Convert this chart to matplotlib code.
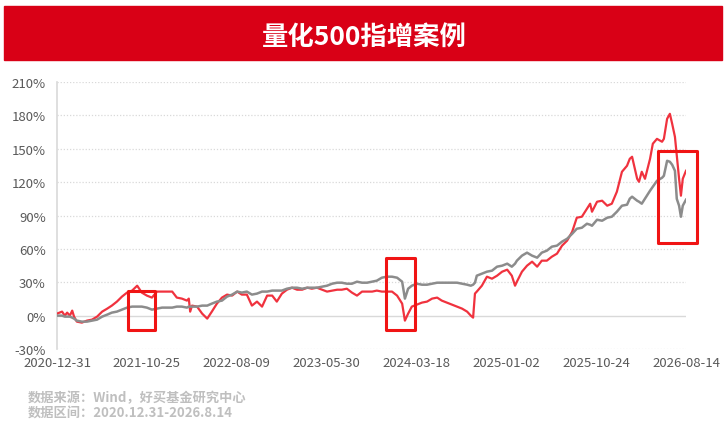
import matplotlib
matplotlib.use("Agg")
import matplotlib.pyplot as plt
from matplotlib.patches import Rectangle

plt.rcParams['font.family'] = ['Noto Sans CJK SC', 'DejaVu Sans']

title = "量化500指增案例"
source_lines = ["数据来源：Wind，好买基金研究中心", "数据区间：2020.12.31-2026.8.14"]

# trading-day index (0 .. 1365) and cumulative returns in %
day_idx = [0, 11, 17, 22, 28, 33, 37, 43, 54, 65, 76, 87, 98, 109, 119, 130, 141, 152, 163, 174,
           184, 195, 206, 217, 228, 239, 250, 260, 271, 282, 286, 289, 293, 304, 315, 326, 336, 347,
           358, 369, 380, 391, 401, 412, 423, 434, 445, 456, 467, 477, 488, 499, 510, 521, 532, 543,
           553, 564, 575, 586, 597, 608, 618, 629, 640, 651, 662, 673, 684, 694, 705, 716, 727, 738,
           749, 755, 762, 770, 781, 792, 803, 814, 825, 835, 846, 857, 868, 879, 890, 898, 903, 907,
           911, 922, 933, 944, 955, 966, 977, 987, 994, 998, 1009, 1020, 1031, 1042, 1052, 1063,
           1074, 1085, 1096, 1107, 1118, 1128, 1139, 1150, 1157, 1161, 1172, 1183, 1194, 1204, 1215,
           1226, 1237, 1243, 1248, 1259, 1263, 1269, 1276, 1287, 1293, 1302, 1313, 1317, 1324, 1330,
           1335, 1341, 1345, 1350, 1354, 1358, 1365]

fund_pct = [1.8, 3.6, 0.0, 2.7, 0.0, 4.5, -0.9, -5.4, -6.3, -4.5, -3.6, -0.9, 3.6, 6.3, 9.0, 12.6,
            17.1, 20.7, 22.5, 26.9, 20.7, 18.0, 16.2, 21.6, 21.6, 21.6, 21.6, 16.2, 15.3, 13.5, 15.3,
            3.6, 9.0, 8.1, 1.8, -2.7, 3.6, 10.8, 16.2, 18.9, 18.0, 21.6, 18.9, 18.9, 9.0, 12.6, 8.1,
            18.0, 18.0, 12.6, 19.8, 23.3, 25.1, 23.3, 23.3, 25.1, 24.2, 25.1, 23.3, 21.6, 22.5, 23.3,
            23.3, 24.2, 20.7, 18.0, 21.6, 21.6, 21.6, 22.5, 21.6, 21.6, 21.6, 18.0, 10.8, -4.5, 1.8,
            8.1, 9.9, 11.7, 12.6, 15.3, 16.2, 13.5, 11.7, 9.9, 8.1, 6.3, 3.6, 0.0, -1.8, 19.8, 21.6,
            26.9, 35.0, 33.2, 35.9, 39.5, 41.3, 35.9, 26.9, 30.5, 39.5, 44.9, 48.5, 44.0, 49.4, 49.4,
            53.0, 55.7, 62.9, 67.4, 75.4, 88.0, 88.9, 96.1, 100.6, 93.4, 102.4, 103.3, 98.8, 100.6,
            111.4, 129.3, 134.7, 141.0, 142.8, 123.0, 120.3, 129.3, 123.0, 141.0, 154.5, 158.9,
            156.3, 158.9, 176.9, 181.4, 172.4, 160.7, 143.7, 123.0, 107.8, 123.0, 130.2]

index_pct = [0.0, 0.0, -0.9, -0.9, -0.9, -1.8, -2.7, -4.5, -5.4, -5.4, -4.5, -3.6, -0.9, 0.9, 2.7,
             3.6, 5.4, 7.2, 8.1, 8.1, 8.1, 7.2, 5.4, 6.3, 7.2, 7.2, 7.2, 8.1, 8.1, 7.2, 8.1, 8.1, 8.1,
             8.1, 9.0, 9.0, 10.8, 12.6, 13.5, 17.1, 18.9, 21.6, 20.7, 21.6, 18.9, 19.8, 21.6, 21.6,
             22.5, 22.5, 22.5, 24.2, 25.1, 25.1, 24.2, 25.1, 25.1, 25.1, 26.0, 26.9, 28.7, 29.6, 29.6,
             28.7, 28.7, 30.5, 29.6, 29.6, 30.5, 31.4, 34.1, 35.0, 35.0, 34.1, 30.5, 15.3, 24.2, 26.9,
             28.7, 27.8, 27.8, 28.7, 29.6, 29.6, 29.6, 29.6, 29.6, 28.7, 27.8, 26.9, 27.8, 29.6, 35.9,
             37.7, 39.5, 40.4, 44.0, 44.9, 46.7, 44.0, 46.7, 49.4, 53.9, 56.6, 53.9, 52.1, 56.6, 58.4,
             62.0, 62.9, 66.5, 69.1, 73.6, 78.1, 79.0, 82.6, 81.7, 80.8, 86.2, 85.3, 88.0, 88.9, 93.4,
             98.8, 99.7, 105.1, 106.9, 103.3, 102.4, 100.6, 105.1, 112.3, 115.8, 121.2, 123.9, 125.7,
             139.2, 138.3, 135.6, 130.2, 105.0, 98.8, 88.9, 98.8, 104.2]

tick_labels = ["2020-12-31", "2021-10-25", "2022-08-09", "2023-05-30",
               "2024-03-18", "2025-01-02", "2025-10-24", "2026-08-14"]
n_days = 1365
y_ticks = [-30, 0, 30, 60, 90, 120, 150, 180, 210]

# highlighted periods: (start idx, end idx, low %, high %)
highlights = [(154, 213, -12.6, 22.5), (714, 777, -12.6, 52.1), (1304, 1389, 65.6, 148.2)]

fig = plt.figure(figsize=(7.28, 4.27), dpi=100)

# title banner
fig.patches.append(Rectangle((4 / 728, 1 - 61 / 427), 718 / 728, 54 / 427,
                             transform=fig.transFigure, color='#d90016', zorder=0))
fig.text(364 / 728, 1 - 37 / 427, title, color='white', fontsize=19, fontweight='bold',
         ha='center', va='center')

ax = fig.add_axes([57 / 728, 1 - 350 / 427, 629 / 728, 267 / 427])
ax.set_xlim(0, n_days)
ax.set_ylim(-30, 210)

for yv in y_ticks:
    if yv == 0:
        ax.axhline(yv, color='#d9d9d9', lw=1.0, zorder=1)
    else:
        ax.axhline(yv, color='#d9d9d9', lw=0.9, ls=(0, (1, 1.5)), zorder=1)

ax.plot(day_idx, fund_pct, color='#f0323e', lw=1.6, zorder=3)
ax.plot(day_idx, index_pct, color='#8c8c8c', lw=1.8, zorder=4)

for x0, x1, y0, y1 in highlights:
    ax.add_patch(Rectangle((x0, y0), x1 - x0, y1 - y0, fill=False, edgecolor='#f01414',
                           lw=2.2, joinstyle='round', zorder=5, clip_on=False))

for s in ['top', 'right', 'bottom']:
    ax.spines[s].set_visible(False)
ax.spines['left'].set_color('#d9d9d9')
ax.spines['left'].set_linewidth(1.2)

ax.set_yticks(y_ticks)
ax.set_yticklabels([f"{v}%" for v in y_ticks])
ax.set_xticks([i * n_days / 7 for i in range(8)])
ax.set_xticklabels(tick_labels)
ax.tick_params(axis='both', length=0, labelsize=9.5, colors='#595959')
ax.tick_params(axis='y', pad=8)
ax.tick_params(axis='x', pad=5)

fig.text(28 / 728, 1 - 398 / 427, source_lines[0], color='#bfbfbf', fontsize=9.5,
         fontweight='bold', ha='left', va='center')
fig.text(28 / 728, 1 - 413 / 427, source_lines[1], color='#bfbfbf', fontsize=9.5,
         fontweight='bold', ha='left', va='center')

fig.savefig("out.png", dpi=100)
